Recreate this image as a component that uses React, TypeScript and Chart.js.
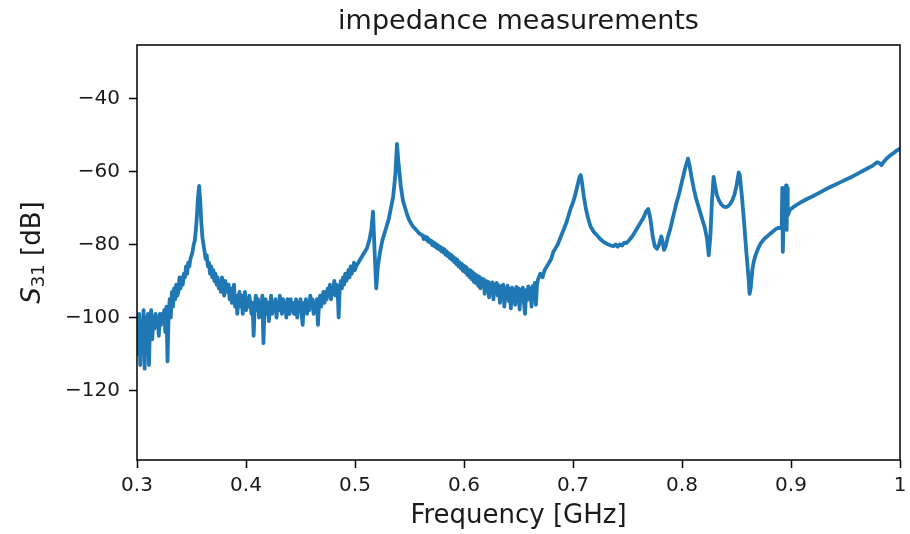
import React, { useEffect, useRef } from "react";
import { Chart, registerables } from "chart.js";

Chart.register(...registerables);

const TITLE = "impedance measurements";
const X_LABEL = "Frequency [GHz]";
const Y_SYMBOL = "S";
const Y_SUB = "31";
const Y_UNIT = " [dB]";

const xTickValues = [0.3, 0.4, 0.5, 0.6, 0.7, 0.8, 0.9, 1.0];
const xTickLabels = ["0.3", "0.4", "0.5", "0.6", "0.7", "0.8", "0.9", "1"];
const yTickValues = [-120, -100, -80, -60, -40];
const yTickLabels = ["\u2212120", "\u2212100", "\u221280", "\u221260", "\u221240"];

// [frequency GHz, S31 dB]
const noiseLeft: [number, number][] = [
  [0.300, -104], [0.301, -110], [0.302, -99], [0.303, -113], [0.304, -101], [0.305, -108],
  [0.306, -98], [0.307, -114], [0.308, -100], [0.309, -104], [0.310, -99], [0.311, -113],
  [0.312, -101], [0.313, -98], [0.314, -106], [0.315, -100], [0.316, -103], [0.317, -99],
  [0.318, -102], [0.319, -100], [0.320, -105], [0.321, -99], [0.322, -102], [0.323, -99],
  [0.324, -101], [0.325, -98], [0.326, -104], [0.327, -97], [0.328, -112], [0.329, -99],
  [0.330, -95], [0.331, -100], [0.332, -93], [0.333, -97], [0.334, -92], [0.335, -95],
  [0.336, -91], [0.337, -94], [0.338, -93], [0.339, -89], [0.340, -92], [0.341, -89],
  [0.342, -91], [0.343, -88], [0.344, -89], [0.345, -86],
];

const resonance357: [number, number][] = [
  [0.346, -88], [0.347, -85], [0.348, -86], [0.349, -84], [0.350, -83], [0.351, -82],
  [0.352, -80], [0.353, -79], [0.354, -76], [0.355, -72], [0.356, -67], [0.357, -64],
  [0.358, -68], [0.359, -74], [0.360, -78], [0.361, -80], [0.362, -82], [0.363, -84],
  [0.364, -83], [0.365, -86], [0.366, -85], [0.367, -88], [0.368, -86], [0.369, -89],
  [0.370, -87], [0.371, -90], [0.372, -88], [0.373, -91], [0.374, -89], [0.375, -92],
  [0.376, -90], [0.377, -93], [0.378, -89], [0.379, -92], [0.380, -94], [0.381, -90],
  [0.382, -93], [0.384, -91], [0.385, -95], [0.386, -92], [0.387, -96], [0.388, -93],
  [0.389, -91], [0.390, -97], [0.391, -94], [0.392, -99], [0.393, -95], [0.394, -93],
];

const midBand: [number, number][] = [
  [0.395, -97], [0.396, -94], [0.397, -99], [0.398, -95], [0.399, -93], [0.400, -98],
  [0.401, -95], [0.402, -97], [0.403, -94], [0.404, -96], [0.405, -99], [0.406, -96],
  [0.407, -105], [0.408, -97], [0.409, -94], [0.410, -98], [0.411, -95], [0.412, -100],
  [0.413, -96], [0.414, -98], [0.415, -94], [0.416, -107], [0.417, -97], [0.418, -95],
  [0.419, -99], [0.420, -96], [0.421, -101], [0.422, -97], [0.423, -94], [0.424, -99],
  [0.425, -96], [0.426, -98], [0.427, -95], [0.428, -100], [0.429, -96], [0.430, -98],
  [0.431, -94], [0.432, -97], [0.433, -99], [0.434, -95], [0.435, -98], [0.436, -96],
  [0.437, -100], [0.438, -95], [0.439, -97], [0.440, -99], [0.441, -95], [0.442, -98],
  [0.443, -96], [0.444, -99], [0.445, -97], [0.446, -95], [0.447, -100], [0.448, -96],
  [0.449, -98], [0.450, -95], [0.451, -99], [0.452, -102], [0.453, -96], [0.454, -98],
  [0.455, -95], [0.456, -99], [0.457, -96], [0.458, -98], [0.459, -94], [0.460, -97],
  [0.461, -95], [0.462, -99], [0.463, -96], [0.464, -98], [0.465, -95], [0.466, -102],
  [0.467, -96], [0.468, -94], [0.469, -97], [0.470, -95], [0.471, -93], [0.472, -96],
  [0.473, -93], [0.474, -95], [0.475, -92], [0.476, -94], [0.477, -91], [0.478, -95],
  [0.479, -92], [0.480, -93], [0.481, -90], [0.482, -94], [0.483, -91], [0.484, -92],
  [0.485, -100], [0.486, -92], [0.487, -90], [0.488, -92], [0.489, -89], [0.490, -91],
  [0.491, -88], [0.492, -90], [0.493, -89], [0.494, -87], [0.495, -89], [0.496, -86],
  [0.497, -88], [0.498, -87], [0.499, -85], [0.500, -87], [0.501, -86], [0.503, -85],
  [0.505, -84], [0.507, -83], [0.509, -82], [0.511, -81], [0.513, -79], [0.515, -76],
];

const resonance539: [number, number][] = [
  [0.5165, -71], [0.518, -82], [0.5195, -92], [0.521, -86], [0.523, -82], [0.525, -79],
  [0.527, -77], [0.529, -75], [0.531, -73], [0.533, -70], [0.535, -67], [0.537, -61],
  [0.5385, -52.5], [0.540, -58], [0.542, -64], [0.544, -68], [0.546, -70], [0.548, -72],
  [0.550, -73.5], [0.553, -75], [0.556, -76], [0.559, -77], [0.562, -77.5], [0.563, -78.5],
  [0.564, -77.8], [0.565, -78.6], [0.566, -78], [0.567, -79.2], [0.568, -78.6], [0.569, -79.5],
  [0.570, -79], [0.571, -80.2], [0.572, -79.4], [0.573, -80.5], [0.574, -79.8], [0.575, -81],
  [0.576, -80.2], [0.577, -81.3], [0.578, -80.6], [0.579, -81.8], [0.580, -81], [0.581, -82.2],
  [0.582, -81.3], [0.583, -82.8], [0.584, -81.9], [0.585, -83.2], [0.586, -82.4], [0.587, -83.7],
  [0.588, -82.8], [0.589, -84.2], [0.590, -83.3], [0.591, -84.8], [0.592, -83.8], [0.593, -85.4],
  [0.594, -84.2], [0.595, -86], [0.596, -84.9], [0.597, -86.5], [0.598, -85.3], [0.599, -87.2],
];

const valley: [number, number][] = [
  [0.600, -85.8], [0.601, -87.6], [0.602, -86.2], [0.603, -88.3], [0.604, -86.8], [0.605, -88.9],
  [0.606, -87.1], [0.607, -89.5], [0.608, -87.6], [0.609, -90.2], [0.610, -88.1], [0.611, -90.6],
  [0.612, -88.5], [0.613, -91.3], [0.614, -88.8], [0.615, -92], [0.616, -89.3], [0.617, -91.2],
  [0.618, -89.5], [0.619, -93.5], [0.620, -90], [0.621, -92.4], [0.622, -90.2], [0.623, -94.5],
  [0.624, -90.6], [0.625, -92.8], [0.626, -90.4], [0.627, -95], [0.628, -91], [0.629, -93.2],
  [0.630, -90.5], [0.631, -94], [0.632, -91.2], [0.633, -96], [0.634, -91.5], [0.635, -93.5],
  [0.636, -91], [0.637, -97], [0.638, -92], [0.639, -94.5], [0.640, -91.3], [0.641, -95.5],
  [0.642, -92.2], [0.643, -97.5], [0.644, -91.8], [0.645, -94], [0.646, -92.5], [0.647, -96.5],
  [0.648, -91.6], [0.649, -95], [0.650, -92], [0.651, -97.8], [0.652, -92.4], [0.653, -94.6],
  [0.654, -91.8], [0.655, -96], [0.656, -99], [0.657, -92.5], [0.658, -95.2], [0.659, -91.5],
  [0.660, -94.8], [0.661, -92], [0.662, -97], [0.663, -91.4], [0.664, -93.8], [0.665, -90.5],
  [0.666, -96.5], [0.667, -91], [0.668, -89.5], [0.670, -88], [0.672, -89], [0.674, -87],
  [0.676, -86], [0.678, -85], [0.680, -84], [0.682, -82], [0.684, -81], [0.686, -80],
  [0.688, -78.5], [0.690, -77], [0.692, -75.5], [0.694, -74], [0.696, -72], [0.698, -70],
  [0.700, -68.5], [0.702, -66.5], [0.704, -64], [0.706, -61.5],
];

const upperBand: [number, number][] = [
  [0.707, -61], [0.708, -62.5], [0.710, -67], [0.712, -70.5], [0.714, -73], [0.716, -75],
  [0.719, -76.5], [0.722, -77.5], [0.725, -78.5], [0.728, -79.3], [0.731, -79.8], [0.734, -80.2],
  [0.737, -80.5], [0.739, -80], [0.741, -80.6], [0.743, -80], [0.745, -80.3], [0.747, -79.5],
  [0.749, -79.6], [0.751, -79], [0.753, -78.3], [0.755, -77.5], [0.757, -76.5], [0.759, -75.5],
  [0.761, -74.5], [0.763, -73.5], [0.765, -72.5], [0.767, -71], [0.769, -70.3], [0.771, -73],
  [0.773, -77.5], [0.775, -80.5], [0.777, -81.2], [0.779, -80], [0.781, -77.8], [0.782, -79],
  [0.7835, -81.5], [0.785, -80.5], [0.787, -78], [0.789, -76], [0.791, -73.5], [0.793, -71],
  [0.795, -68.5], [0.797, -66.5], [0.799, -64], [0.801, -61.5], [0.803, -59], [0.8055, -56.5],
  [0.807, -58.5], [0.809, -62], [0.811, -65], [0.813, -67.5], [0.815, -69.5], [0.817, -71.5],
  [0.819, -73.5], [0.821, -75.5], [0.823, -78.5], [0.8245, -83], [0.826, -78], [0.8275, -68],
  [0.829, -61.5], [0.830, -63.5], [0.832, -66.5], [0.834, -68], [0.836, -69], [0.838, -69.6],
  [0.840, -69.8], [0.842, -69.6], [0.844, -69], [0.846, -68], [0.848, -66.5], [0.850, -64],
  [0.852, -60.3], [0.853, -61], [0.855, -67], [0.857, -74], [0.859, -82], [0.861, -89],
  [0.862, -93.5], [0.863, -92], [0.8645, -87], [0.866, -84.5], [0.868, -82.5], [0.870, -81],
  [0.872, -79.8], [0.874, -79], [0.876, -78.3], [0.878, -77.8], [0.880, -77.3], [0.882, -76.8],
  [0.884, -76.3], [0.886, -75.8], [0.888, -75.5], [0.890, -75.5], [0.8915, -75.2], [0.892, -64.5],
  [0.8925, -82], [0.893, -75], [0.895, -74.8], [0.8955, -63.8], [0.896, -76], [0.8965, -64.5],
  [0.897, -72], [0.899, -70.5], [0.902, -69.8], [0.906, -69], [0.910, -68.3], [0.915, -67.5],
  [0.920, -66.8], [0.925, -66], [0.930, -65.2], [0.935, -64.4], [0.940, -63.7], [0.945, -63],
  [0.950, -62.3], [0.955, -61.6], [0.960, -60.8], [0.965, -60], [0.970, -59.2], [0.975, -58.4],
  [0.979, -57.5], [0.981, -57.7], [0.983, -58.3], [0.985, -57.4], [0.988, -56.4], [0.991, -55.6],
  [0.994, -55], [0.997, -54.3], [1.000, -53.8],
];

const X_MIN = 0.3;
const X_MAX = 1.0;
const Y_MIN = -139;
const Y_MAX = -25.4;

const FONT = '"DejaVu Sans", "Liberation Sans", sans-serif';

const decorPlugin = {
  id: "decor",
  afterDraw(chart: any) {
    const { ctx, chartArea: a } = chart;
    ctx.save();
    ctx.strokeStyle = "#000";
    ctx.lineWidth = 1.5;
    ctx.strokeRect(a.left, a.top, a.right - a.left, a.bottom - a.top);

    ctx.fillStyle = "#1a1a1a";
    ctx.textAlign = "center";
    ctx.textBaseline = "alphabetic";
    ctx.font = `27px ${FONT}`;
    ctx.fillText(TITLE, (a.left + a.right) / 2, 29);
    ctx.font = `26px ${FONT}`;
    ctx.fillText(X_LABEL, (a.left + a.right) / 2, 523);

    // rotated y label with subscript
    const fMain = `26px ${FONT}`;
    const fItal = `italic 26px ${FONT}`;
    const fSub = `18px ${FONT}`;
    ctx.font = fItal;
    const wS = ctx.measureText(Y_SYMBOL).width;
    ctx.font = fSub;
    const wSub = ctx.measureText(Y_SUB).width;
    ctx.font = fMain;
    const wUnit = ctx.measureText(Y_UNIT).width;
    const total = wS + wSub + wUnit;
    ctx.translate(40, (a.top + a.bottom) / 2);
    ctx.rotate(-Math.PI / 2);
    ctx.textAlign = "left";
    let x = -total / 2;
    ctx.font = fItal;
    ctx.fillText(Y_SYMBOL, x, 0);
    x += wS;
    ctx.font = fSub;
    ctx.fillText(Y_SUB, x, 4);
    x += wSub;
    ctx.font = fMain;
    ctx.fillText(Y_UNIT, x, 0);
    ctx.restore();
  },
};

export default function App() {
  const ref = useRef<HTMLCanvasElement | null>(null);

  useEffect(() => {
    if (!ref.current) return;
    const points = [
      ...noiseLeft,
      ...resonance357,
      ...midBand,
      ...resonance539,
      ...valley,
      ...upperBand,
    ].map(([x, y]) => ({ x, y }));

    const chart = new Chart(ref.current, {
      type: "line",
      data: {
        datasets: [
          {
            data: points,
            borderColor: "#1f77b4",
            borderWidth: 3.8,
            pointRadius: 0,
            tension: 0,
            fill: false,
            borderJoinStyle: "round",
            borderCapStyle: "round",
          } as any,
        ],
      },
      options: {
        animation: false,
        responsive: false,
        devicePixelRatio: 1,
        layout: { padding: { left: 0, right: 10, top: 45, bottom: 0 } },
        plugins: {
          legend: { display: false },
          title: { display: false },
          tooltip: { enabled: false },
        },
        scales: {
          x: {
            type: "linear",
            min: X_MIN,
            max: X_MAX,
            afterBuildTicks: (s: any) => {
              s.ticks = xTickValues.map((v) => ({ value: v }));
            },
            afterFit: (s: any) => {
              s.height = 74;
              s.paddingLeft = 0;
              s.paddingRight = 0;
            },
            ticks: {
              callback: (_v: any, i: number) => xTickLabels[i],
              font: { family: FONT, size: 20 },
              color: "#1a1a1a",
              padding: 6,
              maxRotation: 0,
              autoSkip: false,
            },
            grid: {
              drawOnChartArea: false,
              drawTicks: true,
              tickLength: 8,
              tickColor: "#000",
              tickWidth: 1.5,
            },
            border: { display: false },
          },
          y: {
            type: "linear",
            min: Y_MIN,
            max: Y_MAX,
            afterBuildTicks: (s: any) => {
              s.ticks = yTickValues.map((v) => ({ value: v }));
            },
            afterFit: (s: any) => {
              s.width = 137;
              s.paddingTop = 0;
              s.paddingBottom = 0;
            },
            ticks: {
              callback: (_v: any, i: number) => yTickLabels[i],
              font: { family: FONT, size: 20 },
              color: "#1a1a1a",
              padding: 9,
              autoSkip: false,
            },
            grid: {
              drawOnChartArea: false,
              drawTicks: true,
              tickLength: 8,
              tickColor: "#000",
              tickWidth: 1.5,
            },
            border: { display: false },
          },
        },
      } as any,
      plugins: [decorPlugin],
    });
    return () => chart.destroy();
  }, []);

  return (
    <div style={{ position: "absolute", left: 0, top: 0, width: 910, height: 534, background: "#fff" }}>
      <canvas ref={ref} width={910} height={534} style={{ display: "block", width: 910, height: 534 }} />
    </div>
  );
}
